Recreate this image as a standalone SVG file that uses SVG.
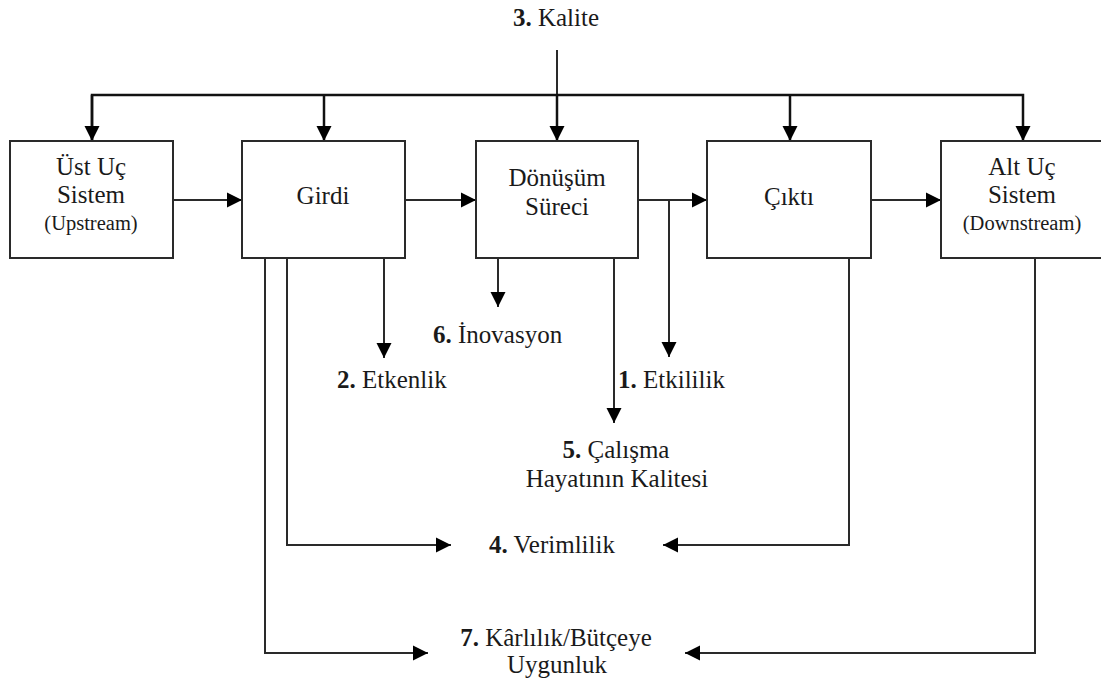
<svg xmlns="http://www.w3.org/2000/svg" width="1101" height="684" viewBox="0 0 1101 684">
  <style>
    .box { fill: #ffffff; stroke: #2a2a2a; stroke-width: 2; }
    text { font-family: "Liberation Serif", "Times New Roman", serif; font-size: 25px; fill: #1a1a1a; }
    .sm { font-size: 20.5px; }
    .num { font-weight: bold; }
    .mid { text-anchor: middle; }
    .ln { fill: none; stroke: #2a2a2a; stroke-width: 2; }
    .bus { fill: none; stroke: #111; stroke-width: 2.5; }
  </style>
  <defs>
    <marker id="ah" markerUnits="userSpaceOnUse" markerWidth="16" markerHeight="16" refX="15" refY="8" orient="auto">
      <path d="M0,0.5 L15,8 L0,15.5 z" fill="#000"/>
    </marker>
  </defs>

  <rect width="1101" height="684" fill="#ffffff"/>

  <!-- connectors -->
  <g id="connectors">
    <!-- quality bus across the top -->
    <line class="ln" x1="557" y1="50" x2="557" y2="95"/>
    <polyline class="bus" points="92,141 92,95 1023,95 1023,141" marker-end="url(#ah)"/>
    <line class="bus" x1="92" y1="95" x2="92" y2="141" marker-end="url(#ah)"/>
    <line class="bus" x1="324" y1="95" x2="324" y2="141" marker-end="url(#ah)"/>
    <line class="bus" x1="557" y1="95" x2="557" y2="141" marker-end="url(#ah)"/>
    <line class="bus" x1="790" y1="95" x2="790" y2="141" marker-end="url(#ah)"/>

    <!-- main flow -->
    <line class="ln" x1="173" y1="200" x2="242" y2="200" marker-end="url(#ah)"/>
    <line class="ln" x1="405" y1="200" x2="476" y2="200" marker-end="url(#ah)"/>
    <line class="ln" x1="638" y1="200" x2="707" y2="200" marker-end="url(#ah)"/>
    <line class="ln" x1="871" y1="200" x2="941" y2="200" marker-end="url(#ah)"/>

    <!-- effectiveness -->
    <line class="ln" x1="669" y1="200" x2="669" y2="357" marker-end="url(#ah)"/>
    <!-- efficiency (input) -->
    <line class="ln" x1="384" y1="258" x2="384" y2="358" marker-end="url(#ah)"/>
    <!-- innovation -->
    <line class="ln" x1="498" y1="258" x2="498" y2="307" marker-end="url(#ah)"/>
    <!-- quality of working life -->
    <line class="ln" x1="614" y1="258" x2="614" y2="423" marker-end="url(#ah)"/>
    <!-- productivity -->
    <polyline class="ln" points="287,258 287,545 451,545" marker-end="url(#ah)"/>
    <polyline class="ln" points="849,258 849,545 663,545" marker-end="url(#ah)"/>
    <!-- profitability / budget -->
    <polyline class="ln" points="265,258 265,653 428,653" marker-end="url(#ah)"/>
    <polyline class="ln" points="1035,258 1035,653 685,653" marker-end="url(#ah)"/>
  </g>

  <!-- nodes -->
  <g id="upstream">
    <rect class="box" x="10" y="141" width="163" height="117"/>
    <text class="mid" x="91" y="175">Üst Uç</text>
    <text class="mid" x="91" y="203">Sistem</text>
    <text class="sm mid" x="91" y="230">(Upstream)</text>
  </g>
  <g id="input">
    <rect class="box" x="242" y="141" width="163" height="117"/>
    <text class="mid" x="323" y="204">Girdi</text>
  </g>
  <g id="process">
    <rect class="box" x="476" y="141" width="162" height="117"/>
    <text class="mid" x="557" y="186">Dönüşüm</text>
    <text class="mid" x="557" y="215">Süreci</text>
  </g>
  <g id="output">
    <rect class="box" x="707" y="141" width="164" height="117"/>
    <text class="mid" x="789" y="205">Çıktı</text>
  </g>
  <g id="downstream">
    <rect class="box" x="941" y="141" width="170" height="117"/>
    <text class="mid" x="1022" y="175">Alt Uç</text>
    <text class="mid" x="1022" y="203">Sistem</text>
    <text class="sm mid" x="1022" y="230">(Downstream)</text>
  </g>

  <!-- performance criteria -->
  <g id="quality">
    <text class="mid" x="556" y="26"><tspan class="num">3.</tspan> Kalite</text>
  </g>
  <g id="efficiency">
    <text x="337" y="388"><tspan class="num">2.</tspan> Etkenlik</text>
  </g>
  <g id="innovation">
    <text x="433" y="343"><tspan class="num">6.</tspan> İnovasyon</text>
  </g>
  <g id="effectiveness">
    <text x="618" y="388"><tspan class="num">1.</tspan> Etkililik</text>
  </g>
  <g id="work-life">
    <text class="mid" x="616" y="458"><tspan class="num">5.</tspan> Çalışma</text>
    <text class="mid" x="617" y="487">Hayatının Kalitesi</text>
  </g>
  <g id="productivity">
    <text x="489" y="553"><tspan class="num">4.</tspan> Verimlilik</text>
  </g>
  <g id="profitability">
    <text class="mid" x="556" y="646"><tspan class="num">7.</tspan> Kârlılık/Bütçeye</text>
    <text class="mid" x="557" y="673">Uygunluk</text>
  </g>
</svg>
